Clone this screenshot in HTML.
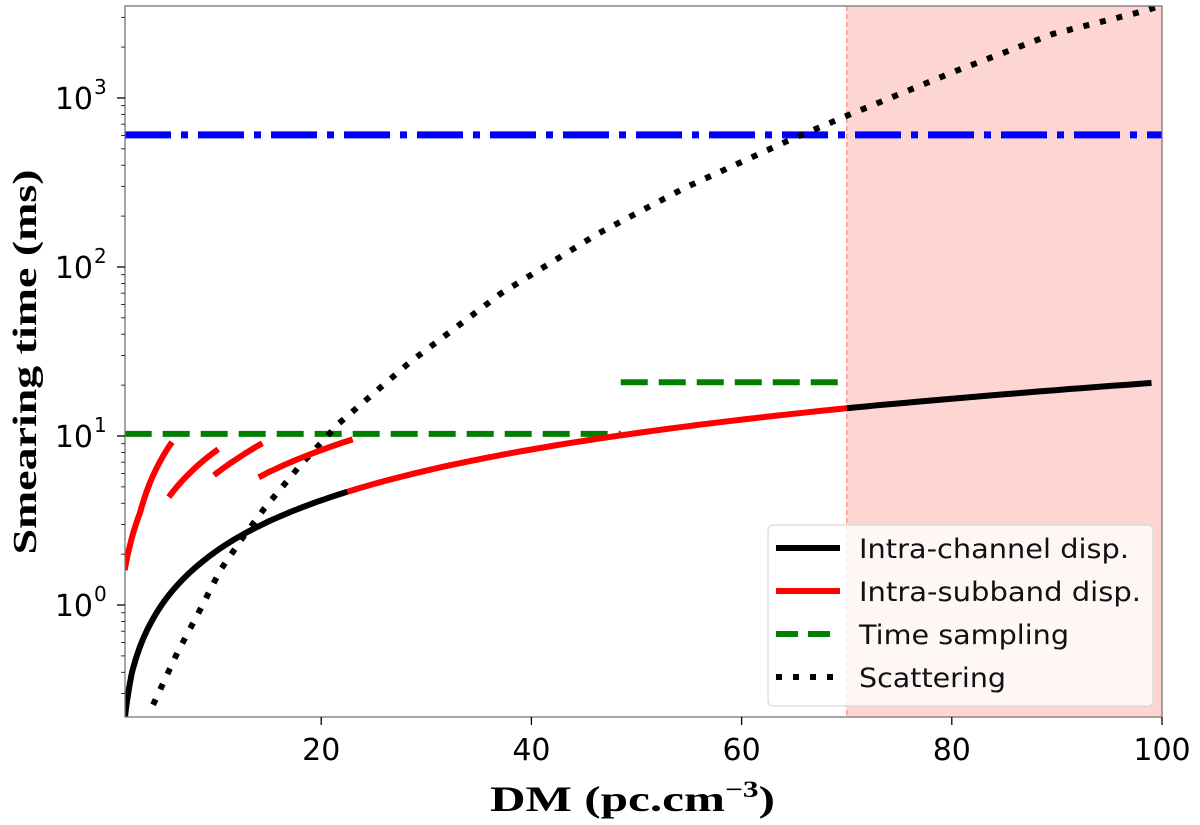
<!DOCTYPE html>
<html><head><meta charset="utf-8"><style>
html,body{margin:0;padding:0;background:#fff}
svg{display:block}
</style></head><body>
<svg id="chart" width="1200" height="825" viewBox="0 0 1200 825" xmlns="http://www.w3.org/2000/svg">
<defs><clipPath id="plotclip"><rect x="125" y="6" width="1037" height="711"/></clipPath></defs>
<g id="bg"></g>
<g id="series" clip-path="url(#plotclip)"></g>
<g id="axes"></g>
<g id="legend"></g>
</svg>
<script>
// ---- data ----
const xTicks = [20, 40, 60, 80, 100];
const yDecades = [0, 1, 2, 3];
const shadeStart = 70;
const chanDM = [1.3, 2, 3, 5, 8, 12, 16, 22.5, 30, 40, 50, 60, 70, 80, 90, 99];
const chanVal = [0.21, 0.4, 0.62, 1.04, 1.66, 2.5, 3.33, 4.68, 6.24, 8.32, 10.4, 12.5, 14.6, 16.6, 18.7, 20.6];
const subSegDM = [[1.3, 2.75, 5.8], [5.5, 7.8, 10.2], [9.8, 12.1, 14.4], [14.05, 18.5, 23]];
const subSegVal = [[1.61, 3.5, 9.2], [4.35, 6.3, 8.35], [5.86, 7.4, 9.06], [5.7, 7.6, 9.55]];
const sampDM = [[1.3, 48.5], [48.5, 70]];
const sampVal = [10.3, 20.8];
const scatDM = [4.0, 6.3, 8.45, 10.4, 12.5, 14.6, 18, 21.7, 28.4, 37.1, 46.3, 54.6, 64.4, 70, 80.4, 89.6, 98.3, 101];
const scatVal = [0.257, 0.52, 0.93, 1.61, 2.49, 3.74, 6.7, 11.9, 27.2, 69.7, 157, 294, 558, 784, 1445, 2390, 3270, 3700];
const blueVal = 605;

// ---- scales ----
const X0 = 125, X1 = 1162, Y0 = 6, Y1 = 717;
const xmin = 1.33, xmax = 100;
const ymin = Math.log10(0.2175), ymax = Math.log10(3500);
const xs = d => X0 + (d - xmin) / (xmax - xmin) * (X1 - X0);
const ys = v => Y1 - (Math.log10(v) - ymin) / (ymax - ymin) * (Y1 - Y0);
const NS = "http://www.w3.org/2000/svg";
function mk(tag, parent, attrs) {
  const e = document.createElementNS(NS, tag);
  for (const k in attrs) e.setAttribute(k, attrs[k]);
  document.getElementById(parent).appendChild(e);
  return e;
}
function pathFrom(ds, vs, sub) {
  let pts = [];
  for (let i = 0; i < ds.length; i++) {
    if (i > 0 && sub) {
      for (let k = 1; k < sub; k++) {
        const t = k / sub;
        pts.push([xs(ds[i-1] + (ds[i]-ds[i-1])*t), ys(vs[i-1] + (vs[i]-vs[i-1])*t)]);
      }
    }
    pts.push([xs(ds[i]), ys(vs[i])]);
  }
  return "M" + pts.map(p => p[0].toFixed(1) + "," + p[1].toFixed(1)).join("L");
}

let e;
e = mk("rect", "bg", {x: xs(shadeStart), y: Y0, width: X1 - xs(shadeStart), height: Y1 - Y0, fill: "#fdd6d3"});


e = mk("line", "bg", {x1: xs(shadeStart), x2: xs(shadeStart), y1: Y0, y2: Y1, stroke: "#f08a80", "stroke-width": 1.2, "stroke-dasharray": "5,3"});



e = mk("line", "series", {x1: X0, x2: X1, y1: ys(blueVal), y2: ys(blueVal), stroke: "#0000ff", "stroke-width": 7, "stroke-dasharray": "46,10,7,10"});



for (let i = 0; i < sampDM.length; i++) {
  e = mk("line", "series", {x1: xs(sampDM[i][0]), x2: xs(sampDM[i][1]), y1: ys(sampVal[i]), y2: ys(sampVal[i]), stroke: "#008000", "stroke-width": 6, "stroke-dasharray": "27,11"});
  
  
}

e = mk("path", "series", {d: pathFrom(scatDM, scatVal, 0), fill: "none", stroke: "#000", "stroke-width": 6, "stroke-dasharray": "6,11"});



function splitSeries(lo, hi) {
  const d = [], v = [];
  for (let i = 0; i < chanDM.length; i++) if (chanDM[i] >= lo && chanDM[i] <= hi) { d.push(chanDM[i]); v.push(chanVal[i]); }
  return [d, v];
}
let s = splitSeries(0, 22.5);
e = mk("path", "series", {d: pathFrom(s[0], s[1], 12), fill: "none", stroke: "#000", "stroke-width": 6});


s = splitSeries(22.5, 70);
e = mk("path", "series", {d: pathFrom(s[0], s[1], 12), fill: "none", stroke: "#ff0000", "stroke-width": 6});


s = splitSeries(70, 200);
e = mk("path", "series", {d: pathFrom(s[0], s[1], 12), fill: "none", stroke: "#000", "stroke-width": 6});



for (let i = 0; i < subSegDM.length; i++) {
  e = mk("path", "series", {d: pathFrom(subSegDM[i], subSegVal[i], 10), fill: "none", stroke: "#ff0000", "stroke-width": 6});
  
  
}

e = mk("rect", "axes", {x: X0, y: Y0, width: X1 - X0, height: Y1 - Y0, fill: "none", stroke: "#777", "stroke-width": 1.3});


const tf = 'font-family:"DejaVu Sans","Liberation Sans",sans-serif;';
xTicks.forEach(t => {
  const x = xs(t);
  e = mk("line", "axes", {x1: x, x2: x, y1: Y1, y2: Y1 + 8, stroke: "#000", "stroke-width": 1.3});
  
  
  e = mk("text", "axes", {x: x, y: Y1 + 43, "text-anchor": "middle", style: tf + "font-size:30px", fill: "#000"});
  e.textContent = t;
  
  
});
for (let dcd = -1; dcd <= 3; dcd++) {
  for (let m = 1; m <= 9; m++) {
    const v = m * Math.pow(10, dcd);
    const y = ys(v);
    if (y < Y0 || y > Y1) continue;
    e = mk("line", "axes", {x1: X0 - (m === 1 ? 8 : 4), x2: X0, y1: y, y2: y, stroke: "#000", "stroke-width": m === 1 ? 1.3 : 0.8});
    
    
  }
}
yDecades.forEach(dcd => {
  const y = ys(Math.pow(10, dcd));
  e = mk("text", "axes", {x: 93, y: y + 11, "text-anchor": "end", style: tf + "font-size:30px", fill: "#000"});
  e.textContent = "10";
  
  
  e = mk("text", "axes", {x: 94, y: y - 4, "text-anchor": "start", style: tf + "font-size:20px", fill: "#000"});
  e.textContent = dcd;
  
  
});
const sf = 'font-family:"Liberation Serif",serif;font-weight:bold;';
e = mk("text", "axes", {x: 490, y: 811, style: sf + "font-size:36px", fill: "#000", textLength: 285, lengthAdjust: "spacingAndGlyphs"});
e.innerHTML = 'DM (pc.cm<tspan dy="-14" font-size="23">−3</tspan><tspan dy="14">)</tspan>';


e = mk("text", "axes", {x: 0, y: 0, "text-anchor": "middle", style: sf + "font-size:34px", fill: "#000", textLength: 385, lengthAdjust: "spacingAndGlyphs", transform: "translate(36,362) rotate(-90)"});
e.textContent = "Smearing time (ms)";



e = mk("rect", "legend", {x: 768, y: 525, width: 385, height: 181, rx: 5, fill: "rgba(255,255,255,0.8)", stroke: "#d8d8d8", "stroke-width": 1.2});


const legLabels = ["Intra-channel disp.", "Intra-subband disp.", "Time sampling", "Scattering"];
const legColors = ["#000", "#ff0000", "#008000", "#000"];
const legDash = ["none", "none", "22,10", "6,11"];
const legWidth = [270, 282, 210, 147];
legLabels.forEach((lab, i) => {
  const y = 548 + i * 43;
  e = mk("line", "legend", {x1: 776, x2: 840, y1: y, y2: y, stroke: legColors[i], "stroke-width": 6, "stroke-dasharray": legDash[i]});
  
  
  e = mk("text", "legend", {x: 859, y: y + 10, style: tf + "font-size:27px", fill: "#111", textLength: legWidth[i], lengthAdjust: "spacingAndGlyphs"});
  e.textContent = lab;
  
  
});
</script>
</body></html>
